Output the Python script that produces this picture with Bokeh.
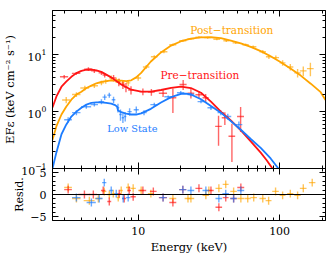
import numpy as np
from bokeh.plotting import figure
from bokeh.models import (LogAxis, LinearAxis, FixedTicker, Range1d,
                          Span, BasicTickFormatter)
from bokeh.layouts import column
from bokeh.embed import file_html
from bokeh.resources import INLINE
from bokeh.core.properties import value

FONT = "DejaVu Serif"
RED = "#FF1414"
ORANGE = "#FFA500"
BLUE = "#1C7CFF"

# ---------------- data ----------------
# Pre-transition (red) spectrum
red_e = [3.0, 3.65, 4.45, 4.9, 5.5, 5.8, 6.7, 7.3, 7.8, 8.2, 8.9, 10.8, 12.4, 15.0,
         17.6, 20.8, 23.6, 26.9, 30.0, 37.0, 41.0, 46.0, 53.0]
red_de = [0.2, 0.25, 0.3, 0.25, 0.25, 0.2, 0.25, 0.2, 0.25, 0.25, 0.4, 0.6, 0.7, 1.0,
          1.0, 1.2, 1.3, 1.5, 1.5, 2.0, 2.0, 2.5, 3.0]
red_f = [4.1, 4.7, 5.6, 5.2, 4.8, 4.4, 3.9, 3.3, 3.0, 2.7, 2.4, 2.25, 2.2, 2.1,
         1.75, 3.0, 2.1, 1.98, 1.75, 0.55, 0.78, 0.37, 0.82]
red_df = [0.3, 0.3, 0.4, 0.4, 0.4, 0.4, 0.5, 0.5, 0.5, 0.5, 0.4, 0.3, 0.3, 0.3,
          0.8, 0.6, 0.4, 0.3, 0.3, 0.3, 0.2, 0.24, 0.38]

# Low state (blue) spectrum
blue_e = [3.2, 3.66, 4.3, 4.9, 5.5, 5.8, 6.25, 6.7, 7.2, 7.5, 7.8, 8.1, 8.7, 9.7,
          11.0, 13.0, 16.3, 20.0, 23.6, 27.8, 32.7, 38.4, 43.0, 51.5]
blue_de = [0.2, 0.25, 0.35, 0.3, 0.25, 0.2, 0.2, 0.2, 0.15, 0.15, 0.15, 0.15, 0.3, 0.4,
           0.5, 0.8, 1.0, 1.2, 1.3, 1.5, 1.8, 2.0, 2.5, 3.0]
blue_f = [0.72, 0.96, 1.22, 1.33, 1.5, 1.8, 1.95, 1.62, 1.17, 0.89, 0.78, 0.82, 1.0, 1.08,
          0.96, 1.33, 1.83, 2.15, 2.0, 1.5, 1.17, 0.96, 0.82, 0.59]
blue_df = [0.08, 0.1, 0.1, 0.1, 0.15, 0.2, 0.2, 0.2, 0.2, 0.2, 0.15, 0.15, 0.15, 0.15,
           0.1, 0.1, 0.1, 0.15, 0.15, 0.1, 0.1, 0.1, 0.1, 0.08]

# Post-transition (orange) spectrum
orange_e = [3.1, 3.66, 4.2, 4.9, 5.5, 5.9, 6.45, 7.0, 7.35, 7.8, 8.5, 10.0, 11.4, 13.0,
            15.2, 17.6, 20.7, 23.6, 26.9, 31.0, 36.0, 42.0, 49.0, 57.5, 65.0, 76.0,
            84.0, 94.0, 105.0, 119.0, 134.0, 147.0, 165.0]
orange_de = [0.2, 0.25, 0.3, 0.3, 0.25, 0.2, 0.2, 0.2, 0.15, 0.2, 0.3, 0.5, 0.6, 0.7,
             0.9, 1.0, 1.2, 1.3, 1.5, 1.7, 2.0, 2.0, 2.5, 3.0, 3.5, 4.0,
             4.0, 5.0, 5.0, 6.0, 7.0, 8.0, 9.0]
orange_f = [1.6, 2.0, 2.6, 2.85, 3.2, 3.4, 3.9, 3.6, 3.4, 3.2, 3.2, 3.9, 6.1, 9.2,
            11.3, 15.0, 17.6, 19.0, 20.3, 20.0, 18.7, 17.6, 16.2, 15.0, 13.8, 11.3,
            9.2, 8.9, 7.2, 6.1, 4.8, 5.2, 5.7]
orange_df = [0.2, 0.2, 0.25, 0.25, 0.3, 0.3, 0.4, 0.4, 0.4, 0.4, 0.4, 0.4, 0.5, 0.6,
             0.7, 0.8, 0.8, 0.8, 0.8, 0.8, 0.8, 0.8, 0.8, 0.8, 0.8, 0.8,
             0.8, 0.8, 0.8, 0.8, 0.8, 1.0, 1.5]

# best-fit model curves
red_model_e = [2.48, 2.64, 2.87, 3.10, 3.37, 3.66, 3.97, 4.31, 4.67, 5.07, 5.49, 6.45,
               7.59, 8.93, 10.5, 12.3, 14.5, 17.1, 20.1, 23.6, 27.8, 32.7, 38.4, 45.2,
               53.2, 62.5, 73.5, 81.0, 89.0]
red_model_f = [1.18, 1.83, 2.74, 3.36, 4.1, 4.75, 5.2, 5.45, 5.5, 5.3, 5.0, 4.0,
               3.0, 2.43, 2.24, 2.24, 2.4, 2.62, 2.75, 2.6, 2.15, 1.5, 1.0, 0.70,
               0.47, 0.30, 0.19, 0.14, 0.10]

blue_model_e = [2.48, 2.64, 2.87, 3.10, 3.37, 3.66, 3.97, 4.31, 4.67, 5.07, 5.49, 5.95,
                6.45, 6.88, 7.11, 7.2, 7.59, 8.23, 8.93, 9.68, 10.5, 12.3, 14.5, 17.1,
                20.1, 21.8, 23.6, 27.8, 32.7, 38.4, 45.2, 53.2, 62.5, 73.5, 86.4, 98.0]
blue_model_f = [0.10, 0.19, 0.40, 0.59, 0.82, 1.0, 1.17, 1.33, 1.42, 1.45, 1.45, 1.42,
                1.38, 1.30, 1.22, 1.05, 0.98, 0.92, 0.89, 0.89, 0.93, 1.12, 1.45, 1.80,
                2.05, 2.08, 2.0, 1.65, 1.25, 0.96, 0.68, 0.48, 0.33, 0.23, 0.15, 0.10]

orange_model_e = [2.48, 2.64, 2.87, 3.10, 3.37, 3.66, 3.97, 4.31, 4.67, 5.07, 5.49, 6.45,
                  7.59, 8.23, 8.93, 9.68, 10.5, 12.3, 14.5, 17.1, 20.1, 23.6, 27.8, 32.7,
                  38.4, 45.2, 53.2, 62.5, 73.5, 86.4, 102.0, 120.0, 141.0, 166.0, 195.0, 211.0]
orange_model_f = [0.32, 0.55, 0.89, 1.22, 1.62, 2.0, 2.24, 2.6, 2.86, 3.15, 3.35, 3.55,
                  3.5, 3.45, 3.55, 4.0, 4.8, 7.6, 11.0, 14.5, 17.3, 19.2, 20.2, 20.3,
                  19.6, 17.8, 15.8, 13.8, 11.6, 9.4, 7.4, 5.7, 4.3, 3.1, 2.2, 1.6]

# residuals
red_res_e = [3.2, 4.17, 4.82, 5.66, 6.25, 7.35, 7.97, 8.64, 9.22, 10.8, 12.8, 15.0,
             17.6, 20.7, 26.9, 32.7, 37.2, 41.6, 47.3, 53.2]
red_res_de = [0.2, 0.4, 0.3, 0.2, 0.2, 0.2, 0.25, 0.25, 0.4, 0.6, 0.7, 1.0,
              1.0, 1.2, 1.5, 1.5, 2.0, 2.0, 2.5, 3.0]
red_res = [1.1, 0.0, 0.0, 0.9, -1.6, 0.2, -0.9, 0.9, -0.5, 0.9, 0.7, -0.7,
           -1.8, 1.1, 1.4, 0.9, -2.9, -0.7, -0.9, 1.6]

blue_res_e = [3.66, 4.67, 5.31, 5.76, 6.45, 7.0, 7.84, 8.5, 15.0, 20.7, 23.6, 30.1,
              37.2, 41.6, 47.3, 53.2]
blue_res_de = [0.25, 0.35, 0.3, 0.2, 0.2, 0.2, 0.15, 0.3, 0.9, 1.2, 1.3, 1.6,
               2.0, 2.2, 2.5, 3.0]
blue_res = [-0.7, -1.8, -0.9, 2.7, 0.9, 0.2, -0.9, -0.7, -0.7, 1.1, 0.9, 0.9,
            -0.9, 0.2, -0.9, 0.9]

orange_res_e = [3.2, 3.66, 4.52, 5.23, 5.76, 6.25, 6.67, 7.23, 7.59, 8.5, 9.22, 10.5,
                12.3, 17.6, 22.5, 23.6, 30.1, 31.6, 37.2, 41.6, 47.3, 53.2, 59.5, 65.6,
                76.0, 83.6, 93.6, 105.0, 119.0, 134.0, 147.0, 170.0]
orange_res_de = [0.2, 0.25, 0.4, 0.3, 0.2, 0.2, 0.2, 0.2, 0.2, 0.3, 0.4, 0.5,
                 0.6, 1.0, 1.2, 1.3, 1.6, 1.7, 2.0, 2.0, 2.5, 3.0, 3.0, 3.5,
                 4.0, 4.0, 5.0, 5.0, 6.0, 7.0, 8.0, 9.0]
orange_res = [1.6, -0.9, -1.4, -0.9, 0.7, 0.0, 0.2, -0.7, 0.9, 1.6, 1.4, 0.9,
              0.2, -0.9, -0.9, -0.9, -0.2, 0.9, 1.4, 2.3, 0.7, -0.9, -0.9, -0.7,
              -0.9, -1.4, 0.7, -0.2, 0.2, -0.2, 1.4, 2.7]

res_err = 0.9

# tick positions
x_major = [10, 100]
x_minor = [3, 4, 5, 6, 7, 8, 9, 20, 30, 40, 50, 60, 70, 80, 90, 200]
y_major = [0.1, 1, 10]
y_minor = [0.2, 0.3, 0.4, 0.5, 0.6, 0.7, 0.8, 0.9, 2, 3, 4, 5, 6, 7, 8, 9, 20, 30, 40, 50]
r_major = [-5, 0, 5]
r_minor = [-6, -4, -3, -2, -1, 1, 2, 3, 4, 6]

x_range = Range1d(2.48, 211)


def style_axis(ax, labels=True):
    ax.major_tick_in = 6
    ax.major_tick_out = 0
    ax.minor_tick_in = 3
    ax.minor_tick_out = 0
    ax.axis_line_color = "black"
    ax.major_tick_line_color = "black"
    ax.minor_tick_line_color = "black"
    ax.major_label_text_font = FONT
    ax.major_label_text_font_size = "11px"
    ax.major_label_text_color = "black"
    ax.major_label_standoff = 6
    ax.axis_label_text_font = FONT
    ax.axis_label_text_font_size = "11px"
    ax.axis_label_text_font_style = "normal"
    ax.axis_label_text_color = "black"
    if not labels:
        ax.major_label_text_font_size = "1px"
        ax.major_label_text_color = None
        ax.major_label_standoff = 0


def crosses(fig, e, de, f, df, color, alpha=0.65):
    e = np.asarray(e); de = np.asarray(de); f = np.asarray(f); df = np.asarray(df)
    fig.segment(x0=e - de, y0=f, x1=e + de, y1=f, line_color=color,
                line_width=1.4, line_alpha=alpha)
    fig.segment(x0=e, y0=f - df, x1=e, y1=f + df, line_color=color,
                line_width=1.4, line_alpha=alpha)


# ---------------- main panel ----------------
# the canvas reaches 8px below the frame so that the 10^-1 label is not cut;
# the residual panel is pulled up over that strip.
p = figure(width=334, height=176, x_axis_type="log", y_axis_type="log",
           x_range=x_range, y_range=Range1d(0.1, 60),
           x_axis_location=None, y_axis_location=None,
           output_backend="svg", toolbar_location=None,
           min_border_left=51, min_border_right=9, min_border_top=10, min_border_bottom=8)
p.grid.visible = False
p.outline_line_color = "black"

yl = LogAxis(ticker=FixedTicker(ticks=y_major, minor_ticks=y_minor))
style_axis(yl)
yl.axis_label = "EF\u03b5 (keV cm\u207b\u00b2 s\u207b\u00b9)"
yl.axis_label_text_font_size = "11.5px"
yl.axis_label_standoff = 1
p.add_layout(yl, "left")
yr = LogAxis(ticker=FixedTicker(ticks=y_major, minor_ticks=y_minor))
style_axis(yr, labels=False)
p.add_layout(yr, "right")
xt = LogAxis(ticker=FixedTicker(ticks=x_major, minor_ticks=x_minor))
style_axis(xt, labels=False)
p.add_layout(xt, "above")
xb = LogAxis(ticker=FixedTicker(ticks=x_major, minor_ticks=x_minor))
style_axis(xb, labels=False)
p.add_layout(xb, "below")

crosses(p, orange_e, orange_de, orange_f, orange_df, ORANGE)
crosses(p, red_e, red_de, red_f, red_df, RED)
crosses(p, blue_e, blue_de, blue_f, blue_df, BLUE)

p.line(orange_model_e, orange_model_f, line_color=ORANGE, line_width=1.8)
p.line(red_model_e, red_model_f, line_color=RED, line_width=1.8)
p.line(blue_model_e, blue_model_f, line_color=BLUE, line_width=1.8)

for tx, ty, txt, col, fs in [(45.9, 27.4, "Post\u2212transition", ORANGE, "10.5px"),
                             (27.3, 4.45, "Pre\u2212transition", RED, "10.5px"),
                             (9.1, 0.50, "Low State", BLUE, "9.8px")]:
    p.text(x=[tx], y=[ty], text=[txt], text_color=col, text_font=value(FONT),
           text_font_size=fs, text_align="center", text_baseline="middle")

# ---------------- residual panel ----------------
r = figure(width=334, height=88, x_axis_type="log",
           x_range=x_range, y_range=Range1d(-5.9, 5.9),
           x_axis_location=None, y_axis_location=None,
           output_backend="svg", toolbar_location=None,
           min_border_left=51, min_border_right=9, min_border_top=0, min_border_bottom=36)
r.grid.visible = False
r.outline_line_color = "black"
r.border_fill_alpha = 0
r.styles = {"margin-top": "-8px"}

rl = LinearAxis(ticker=FixedTicker(ticks=r_major, minor_ticks=r_minor))
style_axis(rl)
rl.major_label_overrides = {-5: "\u22125"}
rl.axis_label = "Resid."
rl.axis_label_standoff = 1
r.add_layout(rl, "left")
rr = LinearAxis(ticker=FixedTicker(ticks=r_major, minor_ticks=r_minor))
style_axis(rr, labels=False)
r.add_layout(rr, "right")
rt = LogAxis(ticker=FixedTicker(ticks=x_major, minor_ticks=x_minor))
style_axis(rt, labels=False)
r.add_layout(rt, "above")
rb = LogAxis(ticker=FixedTicker(ticks=x_major, minor_ticks=x_minor),
             formatter=BasicTickFormatter())
style_axis(rb)
rb.axis_label = "Energy (keV)"
rb.axis_label_text_font_size = "11.5px"
rb.axis_label_standoff = 2
r.add_layout(rb, "below")

r.add_layout(Span(location=0, dimension="width", line_color="black", line_width=1))

crosses(r, orange_res_e, orange_res_de, orange_res, [res_err] * len(orange_res), ORANGE)
crosses(r, red_res_e, red_res_de, red_res, [res_err] * len(red_res), RED)
crosses(r, blue_res_e, blue_res_de, blue_res, [res_err] * len(blue_res), BLUE)

layout = column(p, r, spacing=0)
open("out.html", "w").write(file_html(layout, INLINE))
